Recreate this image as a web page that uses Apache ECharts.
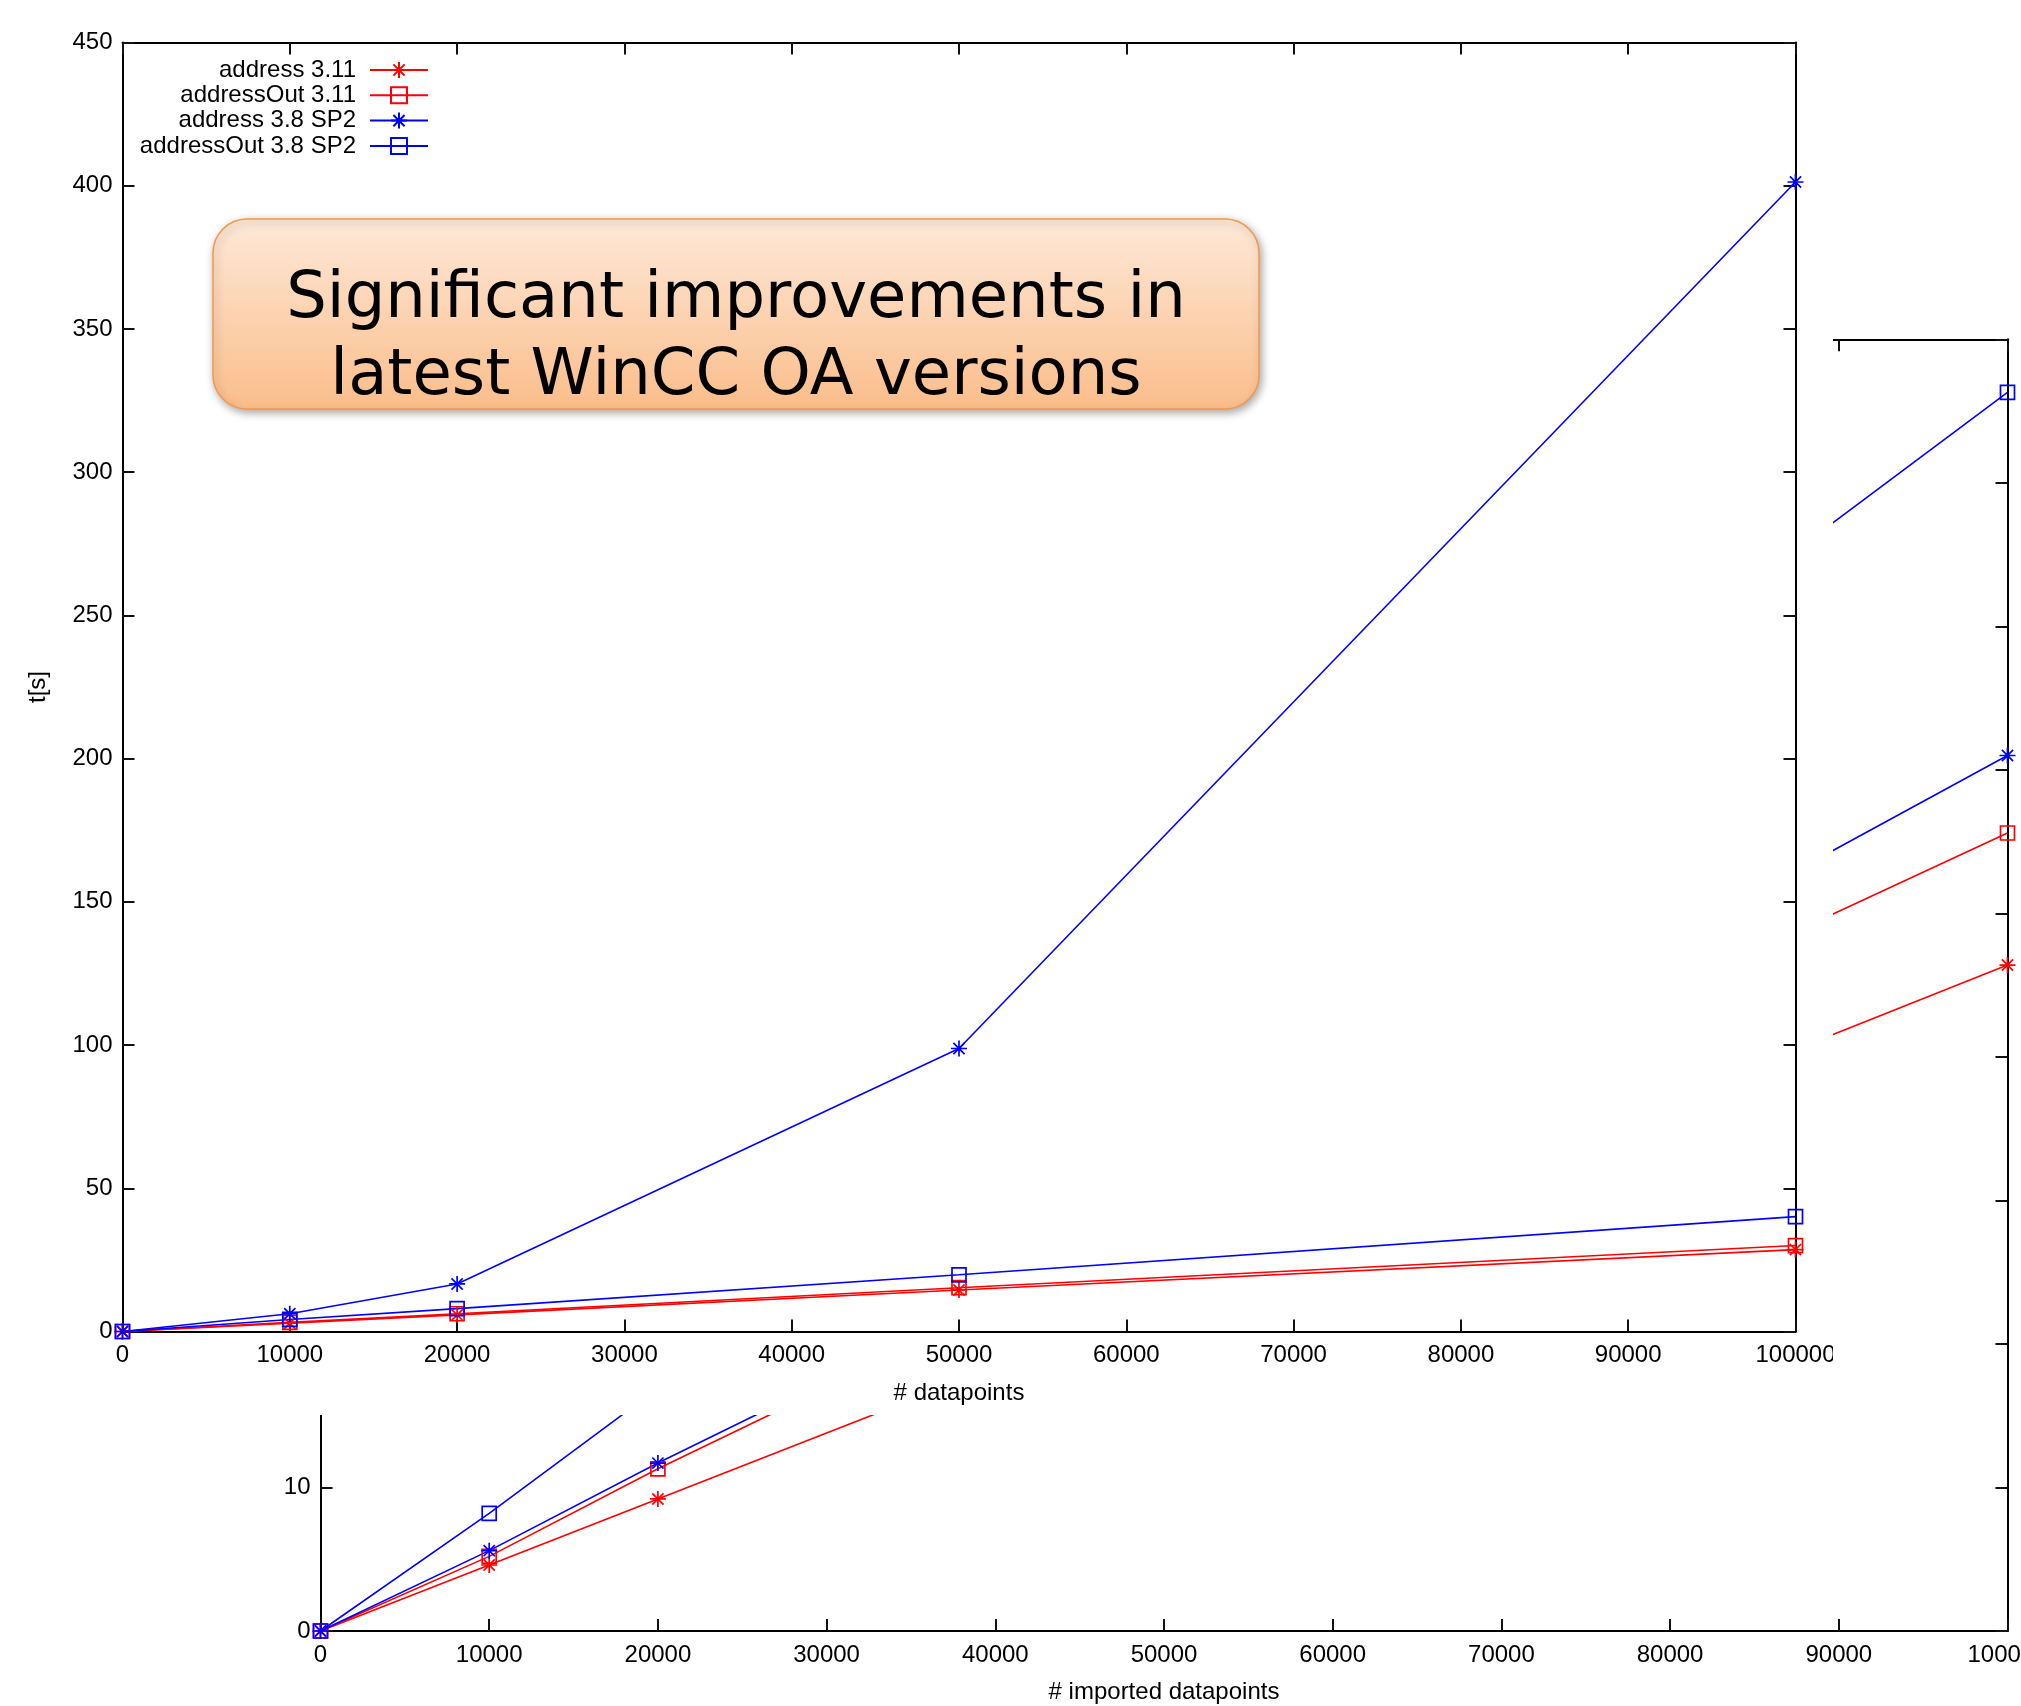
<!DOCTYPE html>
<html><head><meta charset="utf-8">
<script src="https://cdn.jsdelivr.net/npm/echarts@6/dist/echarts.min.js"></script>
<style>html,body{margin:0;padding:0;background:#fff}#c{width:2021px;height:1706px}</style>
</head><body><div id="c"></div>
<script>
// ---- data ----
const xValues = [0, 10000, 20000, 50000, 100000];
const seriesNames = ['address 3.11', 'addressOut 3.11', 'address 3.8 SP2', 'addressOut 3.8 SP2'];
// front chart (t[s] vs # datapoints)
const mainAddress311    = [0, 2.9, 5.8, 14.5, 28.6];
const mainAddressOut311 = [0, 3.2, 6.2, 15.3, 30.0];
const mainAddress38     = [0, 6.2, 16.6, 98.8, 401.3];
const mainAddressOut38  = [0, 4.2, 8.0, 19.8, 40.1];
// background chart (vs # imported datapoints)
const bgAddress311    = [0, 4.6, 9.2, 23.0, 46.4];
const bgAddressOut311 = [0, 5.2, 11.3, 28.3, 55.6];
const bgAddress38     = [0, 5.6, 11.7, 29.0, 61.0];
const bgAddressOut38  = [0, 8.2, 16.9, 42.4, 86.3];
// axes
const xMin = 0, xMax = 100000, xStep = 10000;
const mainYMin = 0, mainYMax = 450, mainYStep = 50;
const bgYMin = 0, bgYMax = 90, bgYStep = 10;
const mainXName = '# datapoints', mainYName = 't[s]', bgXName = '# imported datapoints';
const calloutLines = ['Significant improvements in', 'latest WinCC OA versions'];

// ---- styling ----
const FONT = "'Liberation Sans', Arial, sans-serif";
const FS = 24;
const RED = '#ff0000', BLUE = '#0000ff';
const STAR = 'path://M0,5L10,5M5,0L5,10M1.5,1.5L8.5,8.5M1.5,8.5L8.5,1.5';
const SQUARE = 'path://M0,0L10,0L10,10L0,10Z';
const colors = [RED, RED, BLUE, BLUE];
const shapes = [STAR, SQUARE, STAR, SQUARE];
const mainData = [mainAddress311, mainAddressOut311, mainAddress38, mainAddressOut38];
const bgData = [bgAddress311, bgAddressOut311, bgAddress38, bgAddressOut38];

function pairs(ys) { return xValues.map((x, i) => [x, ys[i]]); }

function mkSeries(name, ys, xi, yi, k, z) {
  const isStar = shapes[k] === STAR;
  return {
    type: 'line', name: name, data: pairs(ys), xAxisIndex: xi, yAxisIndex: yi,
    symbol: shapes[k], symbolSize: isStar ? 16 : 14, showAllSymbol: true,
    z: z, animation: false, silent: true,
    lineStyle: { color: colors[k], width: 1.6 },
    itemStyle: { color: isStar ? colors[k] : 'rgba(0,0,0,0)', borderColor: colors[k], borderWidth: 1.7 },
    emphasis: { disabled: true }
  };
}

function axisCommon(z) {
  return {
    z: z,
    axisLine: { show: true, onZero: false, lineStyle: { color: '#000', width: 2 } },
    axisTick: { show: true, inside: true, length: 12, lineStyle: { color: '#111', width: 2 } },
    splitLine: { show: false },
    axisLabel: { color: '#000', fontFamily: FONT, fontSize: FS, formatter: v => String(v) }
  };
}

function xAxis(grid, pos, showLabel, z, name, gap) {
  const a = Object.assign(axisCommon(z), {
    type: 'value', gridIndex: grid, position: pos, min: xMin, max: xMax, interval: xStep
  });
  a.axisLabel.show = showLabel; a.axisLabel.margin = 12;
  if (name) {
    a.name = name; a.nameLocation = 'middle'; a.nameGap = gap;
    a.nameTextStyle = { color: '#000', fontFamily: FONT, fontSize: FS };
  }
  return a;
}
function yAxis(grid, pos, showLabel, z, mn, mx, st, name, gap) {
  const a = Object.assign(axisCommon(z), {
    type: 'value', gridIndex: grid, position: pos, min: mn, max: mx, interval: st
  });
  a.axisLabel.show = showLabel; a.axisLabel.margin = 10;
  if (name) {
    a.name = name; a.nameLocation = 'middle'; a.nameGap = gap; a.nameRotate = 90;
    a.nameTextStyle = { color: '#000', fontFamily: FONT, fontSize: FS };
  }
  return a;
}

const series = [];
bgData.forEach((d, k) => series.push(mkSeries(seriesNames[k], d, 2, 2, k, 2)));
mainData.forEach((d, k) => series.push(mkSeries(seriesNames[k], d, 0, 0, k, 8)));

const legendRows = [69, 94.3, 119.6, 145];
const legends = seriesNames.map((n, k) => ({
  data: [n], orient: 'vertical', align: 'right', right: 2021 - 429, top: legendRows[k] - 11,
  padding: 0, itemWidth: 58, itemHeight: 20, z: 9, selectedMode: false,
  textStyle: { color: '#000', fontFamily: FONT, fontSize: FS, lineHeight: 22, padding: [0, 9, 0, 0] }
}));

const option = {
  backgroundColor: '#fff',
  animation: false,
  grid: [
    { left: 122.5, top: 42.5, width: 1673, height: 1289, containLabel: false, outerBoundsMode: 'none', show: false },
    { left: 320.5, top: 339.3, width: 1687, height: 1291.7, containLabel: false, outerBoundsMode: 'none', show: false }
  ],
  xAxis: [
    xAxis(0, 'bottom', true, 7, mainXName, 50),
    xAxis(0, 'top', false, 7),
    xAxis(1, 'bottom', true, 1, bgXName, 49),
    xAxis(1, 'top', false, 1)
  ],
  yAxis: [
    yAxis(0, 'left', true, 7, mainYMin, mainYMax, mainYStep, mainYName, 72),
    yAxis(0, 'right', false, 7, mainYMin, mainYMax, mainYStep),
    yAxis(1, 'left', true, 1, bgYMin, bgYMax, bgYStep),
    yAxis(1, 'right', false, 1, bgYMin, bgYMax, bgYStep)
  ],
  legend: legends,
  series: series,
  graphic: { elements: [
    { type: 'rect', z: 5, silent: true, shape: { x: 0, y: 0, width: 1833, height: 1415 }, style: { fill: '#fff' } },
    { type: 'rect', z: 20, silent: true, shape: { x: 1833, y: 1338, width: 150, height: 42 }, style: { fill: '#fff' } },
    { type: 'rect', z: 30, silent: true,
      shape: { x: 213, y: 219, width: 1046, height: 190, r: 34 },
      style: {
        fill: new echarts.graphic.LinearGradient(0, 0, 0, 1, [
          { offset: 0, color: '#fde9d9' }, { offset: 1, color: '#fbbd8a' }
        ]),
        stroke: '#f79646', lineWidth: 1.5,
        shadowBlur: 8, shadowColor: 'rgba(0,0,0,0.35)', shadowOffsetX: 2, shadowOffsetY: 3
      } },
    { type: 'text', z: 31, silent: true, x: 736, y: 300,
      style: { text: calloutLines[0], fill: '#000', font: "64px 'DejaVu Sans', sans-serif", textAlign: 'center', textVerticalAlign: 'middle' } },
    { type: 'text', z: 31, silent: true, x: 736, y: 377,
      style: { text: calloutLines[1], fill: '#000', font: "64px 'DejaVu Sans', sans-serif", textAlign: 'center', textVerticalAlign: 'middle' } }
  ] }
};

const chart = echarts.init(document.getElementById('c'), null, { renderer: 'canvas', width: 2021, height: 1706 });
chart.setOption(option);
</script></body></html>
